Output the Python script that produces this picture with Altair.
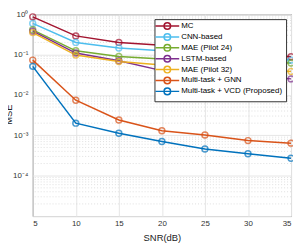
import altair as alt
import pandas as pd

snr = [5, 10, 15, 20, 25, 30, 35]
methods = ["MC", "CNN-based", "MAE (Pilot 24)", "LSTM-based", "MAE (Pilot 32)",
           "Multi-task + GNN", "Multi-task + VCD (Proposed)"]
colors = ["#A2142F", "#4DBEEE", "#77AC30", "#7E2F8E", "#EDB120", "#D95319", "#0072BD"]

mc = [0.86, 0.29, 0.20, 0.17, 0.13, 0.105, 0.088]
cnn = [0.59, 0.20, 0.145, 0.125, 0.10, 0.085, 0.073]
mae24 = [0.41, 0.124, 0.090, 0.078, 0.071, 0.066, 0.062]
lstm = [0.38, 0.109, 0.070, 0.040, 0.035, 0.030, 0.025]
mae32 = [0.35, 0.097, 0.067, 0.055, 0.048, 0.043, 0.038]
gnn = [0.073, 0.0074, 0.0024, 0.0013, 0.00102, 0.00074, 0.00064]
vcd = [0.051, 0.0020, 0.00112, 0.00070, 0.00046, 0.00035, 0.00027]

series = [mc, cnn, mae24, lstm, mae32, gnn, vcd]
rows = []
for i, (m, vals) in enumerate(zip(methods, series)):
    for x, v in zip(snr, vals):
        rows.append({"snr": x, "mse": v, "method": m, "order": i})
df = pd.DataFrame(rows)

major_y = [1e-5, 1e-4, 1e-3, 1e-2, 1e-1, 1]
minor_y = [k * 10.0 ** e for e in range(-5, 0) for k in range(2, 10)]
minor_df = pd.DataFrame({"y": minor_y})

FONT = "Liberation Sans"

xs = alt.Scale(domain=[5, 35], nice=False)
ys = alt.Scale(type="log", domain=[1e-5, 1], nice=False)

label_expr = ("datum.value >= 1 ? '10⁰' : datum.value >= 0.1 ? '10⁻¹' : datum.value >= 0.01 ? '10⁻²' : "
              "datum.value >= 0.001 ? '10⁻³' : datum.value >= 0.0001 ? '10⁻⁴' : ''")

minor = alt.Chart(minor_df).mark_rule(color="#d0d0d0", strokeDash=[1, 2], strokeWidth=0.7).encode(
    y=alt.Y("y:Q", scale=ys)
)

base = alt.Chart(df)
legend_symbol = ("M-4,0H-1.1M1.1,0H4"
                 "M1.1,0C1.1,0.61,0.61,1.1,0,1.1C-0.61,1.1,-1.1,0.61,-1.1,0"
                 "C-1.1,-0.61,-0.61,-1.1,0,-1.1C0.61,-1.1,1.1,-0.61,1.1,0Z"
                 "M-1.1,0H1.1")
color = alt.Color("method:N", scale=alt.Scale(domain=methods, range=colors),
                  sort=methods,
                  legend=alt.Legend(title=None, orient="none", legendX=123, legendY=5,
                                    symbolType=legend_symbol,
                                    symbolSize=36, symbolStrokeWidth=1.5,
                                    labelFont=FONT, labelFontSize=8, labelColor="#000",
                                    strokeColor="#333", fillColor="white", padding=3,
                                    rowPadding=-3.8, symbolOffset=6, labelOffset=10,
                                    labelLimit=200))

lines = base.mark_line(strokeWidth=1.5).encode(
    x=alt.X("snr:Q", scale=xs,
            axis=alt.Axis(values=snr, title="SNR(dB)", grid=True, gridColor="#e6e6e6",
                          labelFont=FONT, labelFontSize=8, labelColor="#333",
                          titleFont=FONT, titleFontSize=9.5, titleFontWeight="normal",
                          titleColor="#222", ticks=False, domain=False, labelPadding=4, titlePadding=5)),
    y=alt.Y("mse:Q", scale=ys,
            axis=alt.Axis(values=major_y, title="MSE", grid=True, gridColor="#e6e6e6",
                          labelExpr=label_expr,
                          labelFont=FONT, labelFontSize=8, labelColor="#333",
                          titleFont=FONT, titleFontSize=9.5, titleFontWeight="normal",
                          titleColor="#222", ticks=False, domain=False, labelPadding=5,
                          titleX=-19, titleY=101)),
    color=color,
    detail="order:N",
    order="snr:Q",
)

points = base.mark_point(shape="circle", filled=False, size=36, strokeWidth=1.5).encode(
    x=alt.X("snr:Q", scale=xs),
    y=alt.Y("mse:Q", scale=ys),
    color=alt.Color("method:N", scale=alt.Scale(domain=methods, range=colors), legend=None),
)

chart = alt.layer(minor, lines, points).properties(
    width=261, height=204,
    padding={"left": 25, "top": 5, "right": 2, "bottom": 30},
    autosize="none",
).configure_view(stroke="#555", strokeWidth=1)

chart.save("out.html", embed_options={"renderer": "svg", "actions": False})
